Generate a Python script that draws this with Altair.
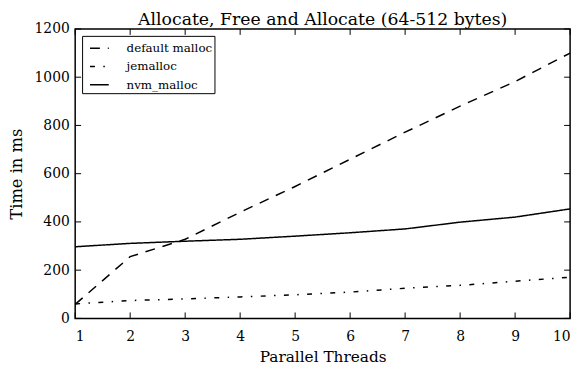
import altair as alt
import pandas as pd

threads = [1, 2, 3, 4, 5, 6, 7, 8, 9, 10]
default_malloc = [58, 256, 328, 440, 547, 660, 772, 880, 982, 1100]
jemalloc = [60, 74, 81, 89, 98, 109, 125, 137, 154, 171]
nvm_malloc = [297, 311, 320, 328, 341, 355, 371, 399, 420, 454]
series_names = ["default malloc", "jemalloc", "nvm_malloc"]
x_ticks = [1, 2, 3, 4, 5, 6, 7, 8, 9, 10]
y_ticks = [0, 200, 400, 600, 800, 1000, 1200]

rows = []
for name, vals in zip(series_names, [default_malloc, jemalloc, nvm_malloc]):
    for t, v in zip(threads, vals):
        rows.append({"threads": t, "time": v, "allocator": name})
df = pd.DataFrame(rows)

W, H = 501, 293
FONT = "DejaVu Serif"

xscale = alt.Scale(domain=[1, 10], nice=False)
yscale = alt.Scale(domain=[0, 1200], nice=False)

lines = alt.Chart(df).mark_line(color="black", strokeWidth=1.5).encode(
    x=alt.X("threads:Q", scale=xscale,
            axis=alt.Axis(title="Parallel Threads", values=x_ticks, ticks=False, domain=False,
                          grid=False, labelPadding=11, titlePadding=7, format="d")),
    y=alt.Y("time:Q", scale=yscale,
            axis=alt.Axis(title="Time in ms", values=y_ticks, ticks=False, domain=False,
                          grid=False, labelPadding=6, titlePadding=10, titleFontSize=16.5,
                          format="d")),
    strokeDash=alt.StrokeDash(
        "allocator:N",
        scale=alt.Scale(domain=series_names, range=[[10, 8], [5, 8.5, 1.5, 8.5], [1, 0]]),
        legend=alt.Legend(title=None, orient="none", legendX=7, legendY=7,
                          symbolType="stroke", symbolSize=361, symbolStrokeWidth=1.5,
                          symbolStrokeColor="black", symbolOffset=5,
                          labelFont=FONT, labelFontSize=12,
                          labelColor="black", padding=2, rowPadding=1.5, labelOffset=17,
                          fillColor="white", strokeColor="black",
                          cornerRadius=0),
    ),
)

xt = pd.DataFrame({"v": x_ticks})
yt = pd.DataFrame({"v": y_ticks})

xb = alt.Chart(xt).mark_rule(color="black", strokeWidth=1).encode(
    x=alt.X("v:Q", scale=xscale), y=alt.value(H), y2=alt.value(H - 6))
xtop = alt.Chart(xt).mark_rule(color="black", strokeWidth=1).encode(
    x=alt.X("v:Q", scale=xscale), y=alt.value(0), y2=alt.value(6))
yl = alt.Chart(yt).mark_rule(color="black", strokeWidth=1).encode(
    y=alt.Y("v:Q", scale=yscale), x=alt.value(0), x2=alt.value(6))
yr = alt.Chart(yt).mark_rule(color="black", strokeWidth=1).encode(
    y=alt.Y("v:Q", scale=yscale), x=alt.value(W), x2=alt.value(W - 6))

chart = alt.layer(xb, xtop, yl, yr, lines).properties(
    width=W, height=H,
    title=alt.TitleParams("Allocate, Free and Allocate (64-512 bytes)", font=FONT,
                          fontSize=17.5, fontWeight="normal", color="black", offset=-6,
                          frame="group"),
    autosize=alt.AutoSizeParams(type="none"),
    padding={"left": 68, "top": 19, "right": 8, "bottom": 48},
).configure_view(stroke="black", strokeWidth=1.5).configure_axis(
    labelFont=FONT, labelFontSize=14, labelColor="black",
    titleFont=FONT, titleFontSize=15.5, titleFontWeight="normal", titleColor="black",
)

chart.save("out.html", embed_options={"renderer": "svg", "actions": False})
